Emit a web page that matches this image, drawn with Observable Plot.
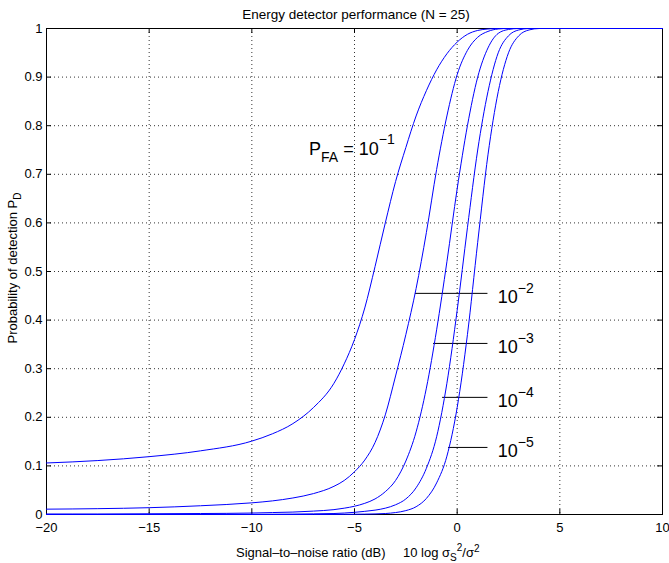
<!DOCTYPE html>
<html><head><meta charset="utf-8">
<script src="https://cdn.jsdelivr.net/npm/d3@7"></script>
<script src="https://cdn.jsdelivr.net/npm/@observablehq/plot@0.6"></script>
<style>body{margin:0;background:#fff}</style>
</head><body><div id="chart"></div>
<script>
// ---- data ----
const snrDb = [-20,-17.5,-15,-12.5,-10,-9,-8,-7,-6,-5.5,-5,-4.5,-4,-3.5,-3,-2.5,-2,-1.5,-1,-0.5,0,0.5,1,1.5,2,2.5,3,3.5,4,5,10];
const pdFa1 = [0.106,0.111,0.119,0.131,0.151,0.166,0.187,0.22,0.27,0.31,0.36,0.425,0.51,0.6,0.685,0.755,0.82,0.872,0.915,0.948,0.972,0.988,0.996,0.999,1,1,1,1,1,1,1];
const pdFa2 = [0.011,0.012,0.014,0.018,0.024,0.028,0.034,0.043,0.058,0.07,0.088,0.112,0.148,0.205,0.285,0.37,0.465,0.58,0.71,0.82,0.905,0.955,0.982,0.994,0.999,1,1,1,1,1,1];
const pdFa3 = [0.001,0.001,0.0015,0.002,0.003,0.004,0.005,0.007,0.01,0.013,0.017,0.023,0.032,0.047,0.07,0.11,0.17,0.26,0.38,0.52,0.67,0.8,0.9,0.96,0.99,0.998,1,1,1,1,1];
const pdFa4 = [0.0001,0.0001,0.0001,0.0002,0.0003,0.0005,0.0008,0.0013,0.002,0.003,0.0045,0.0065,0.009,0.013,0.02,0.032,0.055,0.095,0.16,0.27,0.42,0.59,0.75,0.87,0.95,0.985,0.997,1,1,1,1];
const pdFa5 = [0,0,0,0,0,0,0,0.0001,0.0002,0.0003,0.0005,0.0008,0.0012,0.002,0.004,0.008,0.016,0.033,0.065,0.12,0.22,0.37,0.56,0.74,0.87,0.95,0.985,0.997,1,1,1];
const pfaNames = ["1e-1","1e-2","1e-3","1e-4","1e-5"];
const xTicks = [-20,-15,-10,-5,0,5,10];
const yTicks = [0,0.1,0.2,0.3,0.4,0.5,0.6,0.7,0.8,0.9,1];
// label leader lines (10^-2 .. 10^-5): height, start on curve, end
const leaderPd = [0.455,0.352,0.241,0.138];
const leaderStart = [-2.03,-1.15,-0.71,-0.42];
const leaderEnd = 1.5;
const leaderExp = ["−2","−3","−4","−5"];
const labelSnr = 2.0;
const pfa1LabelSnr = -7.19, pfa1LabelPd = 0.739;

const series = [pdFa1,pdFa2,pdFa3,pdFa4,pdFa5];
const rows = [];
series.forEach((vals,i)=>vals.forEach((v,j)=>rows.push({snr:snrDb[j],pd:v,pfa:pfaNames[i]})));
const leaders = leaderPd.map((p,i)=>({pd:p,x1:leaderStart[i],x2:leaderEnd}));

const W=669,H=563,mL=46,mR=7,mT=28,mB=49;
const tickLenX = 5*30/(W-mL-mR), tickLenY = 5/(H-mT-mB);
const FONT = "'Liberation Sans', Arial, Helvetica, sans-serif";
const fmtX = d => d<0 ? "−"+(-d) : String(d);
const fmtY = d => d===0?"0":d===1?"1":d.toFixed(1);

const plot = Plot.plot({
  width:W,height:H,marginLeft:mL,marginRight:mR,marginTop:mT,marginBottom:mB,
  style:{fontFamily:FONT,fontSize:"13px",color:"black",background:"white"},
  x:{domain:[-20,10],ticks:xTicks,tickFormat:fmtX,tickSize:0,tickPadding:8,label:null},
  y:{domain:[0,1],ticks:yTicks,tickFormat:fmtY,tickSize:0,tickPadding:4,label:null},
  marks:[
    Plot.ruleX(xTicks.slice(1,-1),{stroke:"#333",strokeDasharray:"1,3"}),
    Plot.ruleY(yTicks.slice(1,-1),{stroke:"#333",strokeDasharray:"1,3"}),
    Plot.ruleX(xTicks,{y1:0,y2:tickLenY,stroke:"black"}),
    Plot.ruleX(xTicks,{y1:1,y2:1-tickLenY,stroke:"black"}),
    Plot.ruleY(yTicks,{x1:-20,x2:-20+tickLenX,stroke:"black"}),
    Plot.ruleY(yTicks,{x1:10,x2:10-tickLenX,stroke:"black"}),
    Plot.frame({stroke:"black"}),
    Plot.ruleY(leaders,{y:"pd",x1:"x1",x2:"x2",stroke:"black",strokeWidth:1}),
    Plot.line(rows,{x:"snr",y:"pd",z:"pfa",stroke:"#0000ff",strokeWidth:1,curve:"monotone-x"})
  ]
});
document.getElementById("chart").appendChild(plot);

// ---- rich text labels (sub/superscripts) ----
const sx = plot.scale("x"), sy = plot.scale("y");
const X = v => sx.apply(v), Y = v => sy.apply(v);
const svg = d3.select(plot);
function rich(x,y,parts,anchor,transform){
  const t = svg.append("text").attr("x",x).attr("y",y).attr("font-family",FONT)
    .attr("fill","black").attr("text-anchor",anchor||"start");
  if(transform) t.attr("transform",transform);
  parts.forEach(p=>t.append("tspan").attr("font-size",p.s).attr("dy",p.dy||0).text(p.t));
  return t;
}
// title
rich(356,18.5,[{t:"Energy detector performance (N = 25)",s:13.5}],"middle");
// y label
rich(0,0,[{t:"Probability of detection P",s:13},{t:"D",s:10,dy:4}],"middle","translate(17,268) rotate(-90)");
// x label
rich(236,557,[{t:"Signal–to–noise ratio (dB)",s:13}]);
rich(403,557,[{t:"10 log σ",s:13},{t:"S",s:10,dy:4},{t:"2",s:10,dy:-10},{t:"/σ",s:13,dy:6},{t:"2",s:10,dy:-5}]);
// PFA = 10^-1
rich(X(pfa1LabelSnr),Y(pfa1LabelPd),[{t:"P",s:18},{t:"FA",s:14,dy:7},{t:" = 10",s:18,dy:-7},{t:"−1",s:14,dy:-11}]);
leaderPd.forEach((p,i)=>{
  rich(X(labelSnr),Y(p)+10,[{t:"10",s:18},{t:leaderExp[i],s:14,dy:-10}]);
});
</script></body></html>
